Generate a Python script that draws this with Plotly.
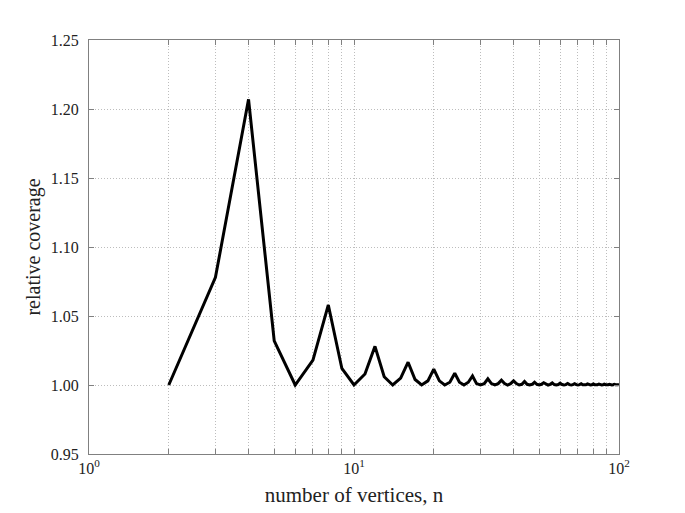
import plotly.graph_objects as go

# number of vertices n and relative coverage
n_vertices = list(range(2, 101))
coverage = [
    1.000, 1.078, 1.207, 1.032, 1.000, 1.018, 1.058, 1.012, 1.000,   # 2-10
    1.008, 1.028, 1.006, 1.000, 1.005, 1.0165, 1.004, 1.000, 1.003, 1.0115,  # 11-20
    1.003, 1.000, 1.002, 1.0085, 1.002, 1.000, 1.002, 1.0065, 1.001, 1.000,  # 21-30
    1.001, 1.0045, 1.001, 1.000, 1.001, 1.0035, 1.001, 1.000, 1.001, 1.003,  # 31-40
    1.001, 1.000, 1.0005, 1.0025, 1.0005, 1.000, 1.0005, 1.002, 1.0005, 1.000,  # 41-50
    1.0005, 1.0017, 1.0005, 1.000, 1.0005, 1.0015, 1.0003, 1.000, 1.0003, 1.0013,  # 51-60
    1.0003, 1.000, 1.0003, 1.0011, 1.0003, 1.000, 1.0003, 1.001, 1.0003, 1.000,  # 61-70
    1.0003, 1.0009, 1.0002, 1.000, 1.0002, 1.0008, 1.0002, 1.000, 1.0002, 1.0007,  # 71-80
    1.0002, 1.000, 1.0002, 1.0006, 1.0002, 1.000, 1.0002, 1.0006, 1.0002, 1.000,  # 81-90
    1.0002, 1.0005, 1.0002, 1.000, 1.0002, 1.0005, 1.0002, 1.000, 1.0002, 1.0004,  # 91-100
]

x_tickvals = [1, 2, 3, 4, 5, 6, 7, 8, 9, 10, 20, 30, 40, 50, 60, 70, 80, 90, 100]
x_ticktext = ['10<sup>0</sup>'] + [''] * 8 + ['10<sup>1</sup>'] + [''] * 8 + ['10<sup>2</sup>']
y_tickvals = [0.95, 1.00, 1.05, 1.10, 1.15, 1.20, 1.25]
y_ticktext = ['0.95', '1.00', '1.05', '1.10', '1.15', '1.20', '1.25']

font_family = 'Liberation Serif'

fig = go.Figure()
fig.add_trace(go.Scatter(
    x=n_vertices, y=coverage, mode='lines',
    line=dict(color='black', width=3),
))

axis_style = dict(
    showline=True, linecolor='#808080', linewidth=1, mirror='ticks',
    ticks='inside', ticklen=5, tickcolor='#808080',
    showgrid=True, gridcolor='#bdbdbd', griddash='1px,2px', gridwidth=1,
    zeroline=False,
    tickfont=dict(family=font_family, size=16, color='#222'),
)

fig.update_xaxes(
    type='log', range=[0, 2],
    tickmode='array', tickvals=x_tickvals, ticktext=x_ticktext,
    title_text='number of vertices, n', title_standoff=11,
    title_font=dict(family=font_family, size=21, color='#222'),
    **axis_style,
)
fig.update_yaxes(
    range=[0.95, 1.25],
    tickmode='array', tickvals=y_tickvals, ticktext=y_ticktext,
    ticklabelstandoff=6,
    title_text='relative coverage', title_standoff=4,
    title_font=dict(family=font_family, size=20, color='#222'),
    **axis_style,
)
fig.update_layout(
    width=685, height=513,
    showlegend=False,
    plot_bgcolor='white', paper_bgcolor='white',
    margin=go.layout.Margin(l=81, r=74, t=32, b=67),
)

fig.write_html('out.html')
